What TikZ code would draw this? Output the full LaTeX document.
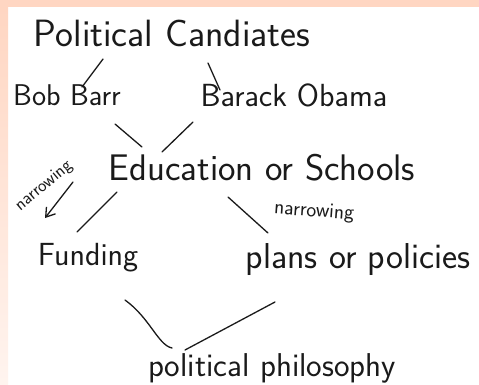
\documentclass[tikz,border=0pt]{standalone}
\usepackage{fontspec}
\usetikzlibrary{arrows.meta, calc}
\definecolor{cpeach}{HTML}{FFD6C2}
\definecolor{clight}{HTML}{FFF4EF}
\definecolor{cink}{HTML}{1A1A1A}
\tikzset{
  every picture/.style={font=\sffamily, line width=1.3pt},
  word/.style={text=cink, inner sep=0pt, font=\sffamily\fontsize{#1}{#1}\selectfont},
  word/.default=27,
  stroke/.style={draw=cink, line cap=round},
  arrow/.style={stroke, -{Straight Barb[length=3mm, width=4mm]}},
  note/.style={text=cink, inner sep=0pt, font=\sffamily\fontsize{#1}{#1}\selectfont},
  note/.default=18,
}
\begin{document}
\begin{tikzpicture}[x=1pt, y=-1pt]
  % page and coloured border
  \useasboundingbox (0,0) rectangle (479,384);
  \fill[white] (0,0) rectangle (479,384);
  \fill[cpeach] (0,0) rectangle (479,7);
  \shade[top color=cpeach, bottom color=clight] (0,7) rectangle (8,384);

  % words
  \node[word=38] (cand)   at (172,33)  {Political Candiates};
  \node[word=30] (bob)    at (67,95)   {Bob Barr};
  \node[word=32] (obama)  at (294,95)  {Barack Obama};
  \node[word=37] (edu)    at (262,168) {Education or Schools};
  \node[word=32] (fund)   at (88,258)  {Funding};
  \node[word=36] (plans)  at (358,260) {plans or policies};
  \node[word=33] (phil)   at (272,368) {political philosophy};
  \node[note=18, rotate=40] (narrowL) at (44,186) {narrowing};
  \node[note=21, rotate=-4] (narrowR) at (314,212) {narrowing};

  % strokes between the words
  \draw[stroke] ($(cand)+(-69,26)$) -- ($(bob)+(15,-8)$);
  \draw[stroke] ($(cand)+(36,30)$) -- ($(obama)+(-74,-5)$);
  \draw[stroke] ($(bob)+(48,29)$) -- ($(edu)+(-120,-21)$);
  \draw[stroke] ($(obama)+(-101,27)$) -- ($(edu)+(-100,-16)$);
  \draw[arrow] ($(edu)+(-189,14)$) -- ($(fund)+(-43,-40)$);
  \draw[stroke] ($(edu)+(-145,24)$) -- ($(fund)+(-11,-26)$);
  \draw[stroke] ($(edu)+(-34,29)$) -- ($(plans)+(-90,-27)$);
  \draw[stroke] ($(fund)+(37,42)$) .. controls ($(fund)+(62,60)$) and ($(phil)+(-114,-23)$) .. ($(phil)+(-100,-20)$);
  \draw[stroke] ($(plans)+(-83,42)$) -- ($(phil)+(-87,-18)$);
\end{tikzpicture}
\end{document}
